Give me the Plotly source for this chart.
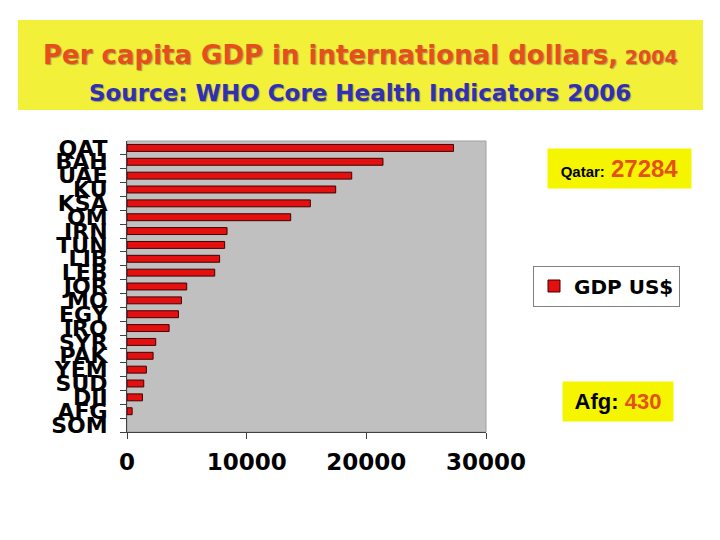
import plotly.graph_objects as go

countries = ["QAT", "BAH", "UAE", "KU", "KSA", "OM", "IRN", "TUN", "LIB", "LEB", "JOR",
             "MO", "EGY", "IRQ", "SYR", "PAK", "YEM", "SUD", "DJI", "AFG", "SOM"]
gdp = [27284, 21390, 18780, 17440, 15320, 13680, 8360, 8160, 7740, 7330, 4990,
       4550, 4300, 3520, 2400, 2180, 1620, 1400, 1290, 430, None]
x_ticks = [0, 10000, 20000, 30000]

# the page body has an 8px margin; size the figure so it fits the 720x540 window
OFF = 8
W, H = 720 - OFF, 540 - OFF
px = lambda v: (v - OFF) / W
py = lambda v: 1 - (v - OFF) / H

fig = go.Figure()
fig.add_trace(go.Bar(
    x=gdp, y=countries, orientation="h", name="GDP US$",
    marker=dict(color="#E41010", line=dict(color="#400000", width=1)),
    width=0.5,
))

xtickfont = dict(family="DejaVu Sans", size=23, color="black", weight="bold")
ytickfont = dict(family="DejaVu Sans", size=22, color="black", weight="bold")

fig.update_layout(
    width=W, height=H,
    margin=dict(l=0, r=0, t=0, b=0, autoexpand=False),
    paper_bgcolor="white",
    plot_bgcolor="#C0C0C0",
    showlegend=True,
    xaxis=dict(domain=[px(127), px(486)], range=[0, 30000], tickmode="array",
               tickvals=x_ticks, ticktext=[str(v) for v in x_ticks], automargin=False,
               showgrid=False, zeroline=False, showline=True, linecolor="#404040",
               linewidth=1, ticks="outside", ticklen=6, tickcolor="#404040",
               tickfont=xtickfont, ticklabelstandoff=3),
    yaxis=dict(domain=[py(432), py(141)], categoryorder="array",
               categoryarray=countries[::-1], tickmode="array", tickvals=countries,
               ticktext=countries, automargin=False, showgrid=False, zeroline=False,
               showline=True, linecolor="#404040", linewidth=1, ticks="outside",
               ticklen=6, tickcolor="#404040", tickson="boundaries",
               tickfont=ytickfont, ticklabelstandoff=14),
    legend=dict(x=px(533), y=py(286), xanchor="left", yanchor="middle",
                bgcolor="white", bordercolor="#808080", borderwidth=1,
                font=dict(family="DejaVu Sans", size=20, color="black", weight="bold")),
    shapes=[
        dict(type="rect", xref="paper", yref="paper", x0=px(18), x1=px(703),
             y0=py(110), y1=py(20), fillcolor="#F3F03A", line=dict(width=0), layer="below"),
        dict(type="rect", xref="paper", yref="paper", x0=px(127), x1=px(486),
             y0=py(432), y1=py(141), line=dict(color="#A0A0A0", width=1), layer="below"),
    ],
    annotations=[
        dict(xref="paper", yref="paper", x=px(360), y=py(55), showarrow=False,
             xanchor="center", yanchor="middle",
             text="Per capita GDP in international dollars,<span style='font-size:19px'> 2004</span>",
             font=dict(family="DejaVu Sans", size=26, color="#E5501A", weight="bold",
                       shadow="1px 1px 1px #a0a050")),
        dict(xref="paper", yref="paper", x=px(360), y=py(93), showarrow=False,
             xanchor="center", yanchor="middle",
             text="Source: WHO Core Health Indicators 2006",
             font=dict(family="DejaVu Sans", size=23, color="#3030B4", weight="bold",
                       shadow="1px 1px 1px #a0a050")),
        dict(xref="paper", yref="paper", x=px(619.5), y=py(168.5), showarrow=False,
             xanchor="center", yanchor="middle",
             width=141, height=37, bgcolor="#F5F500",
             text="<b><span style='font-size:15px;color:black'>Qatar:</span> "
                  "<span style='font-size:24px;color:#E5501A'>27284</span></b>",
             font=dict(family="Liberation Sans", size=22)),
        dict(xref="paper", yref="paper", x=px(618), y=py(401.5), showarrow=False,
             xanchor="center", yanchor="middle",
             width=108, height=37, bgcolor="#F5F500",
             text="<b><span style='color:black'>Afg:</span> "
                  "<span style='color:#E5501A'>430</span></b>",
             font=dict(family="Liberation Sans", size=22)),
    ],
)

fig.write_html("out.html")
